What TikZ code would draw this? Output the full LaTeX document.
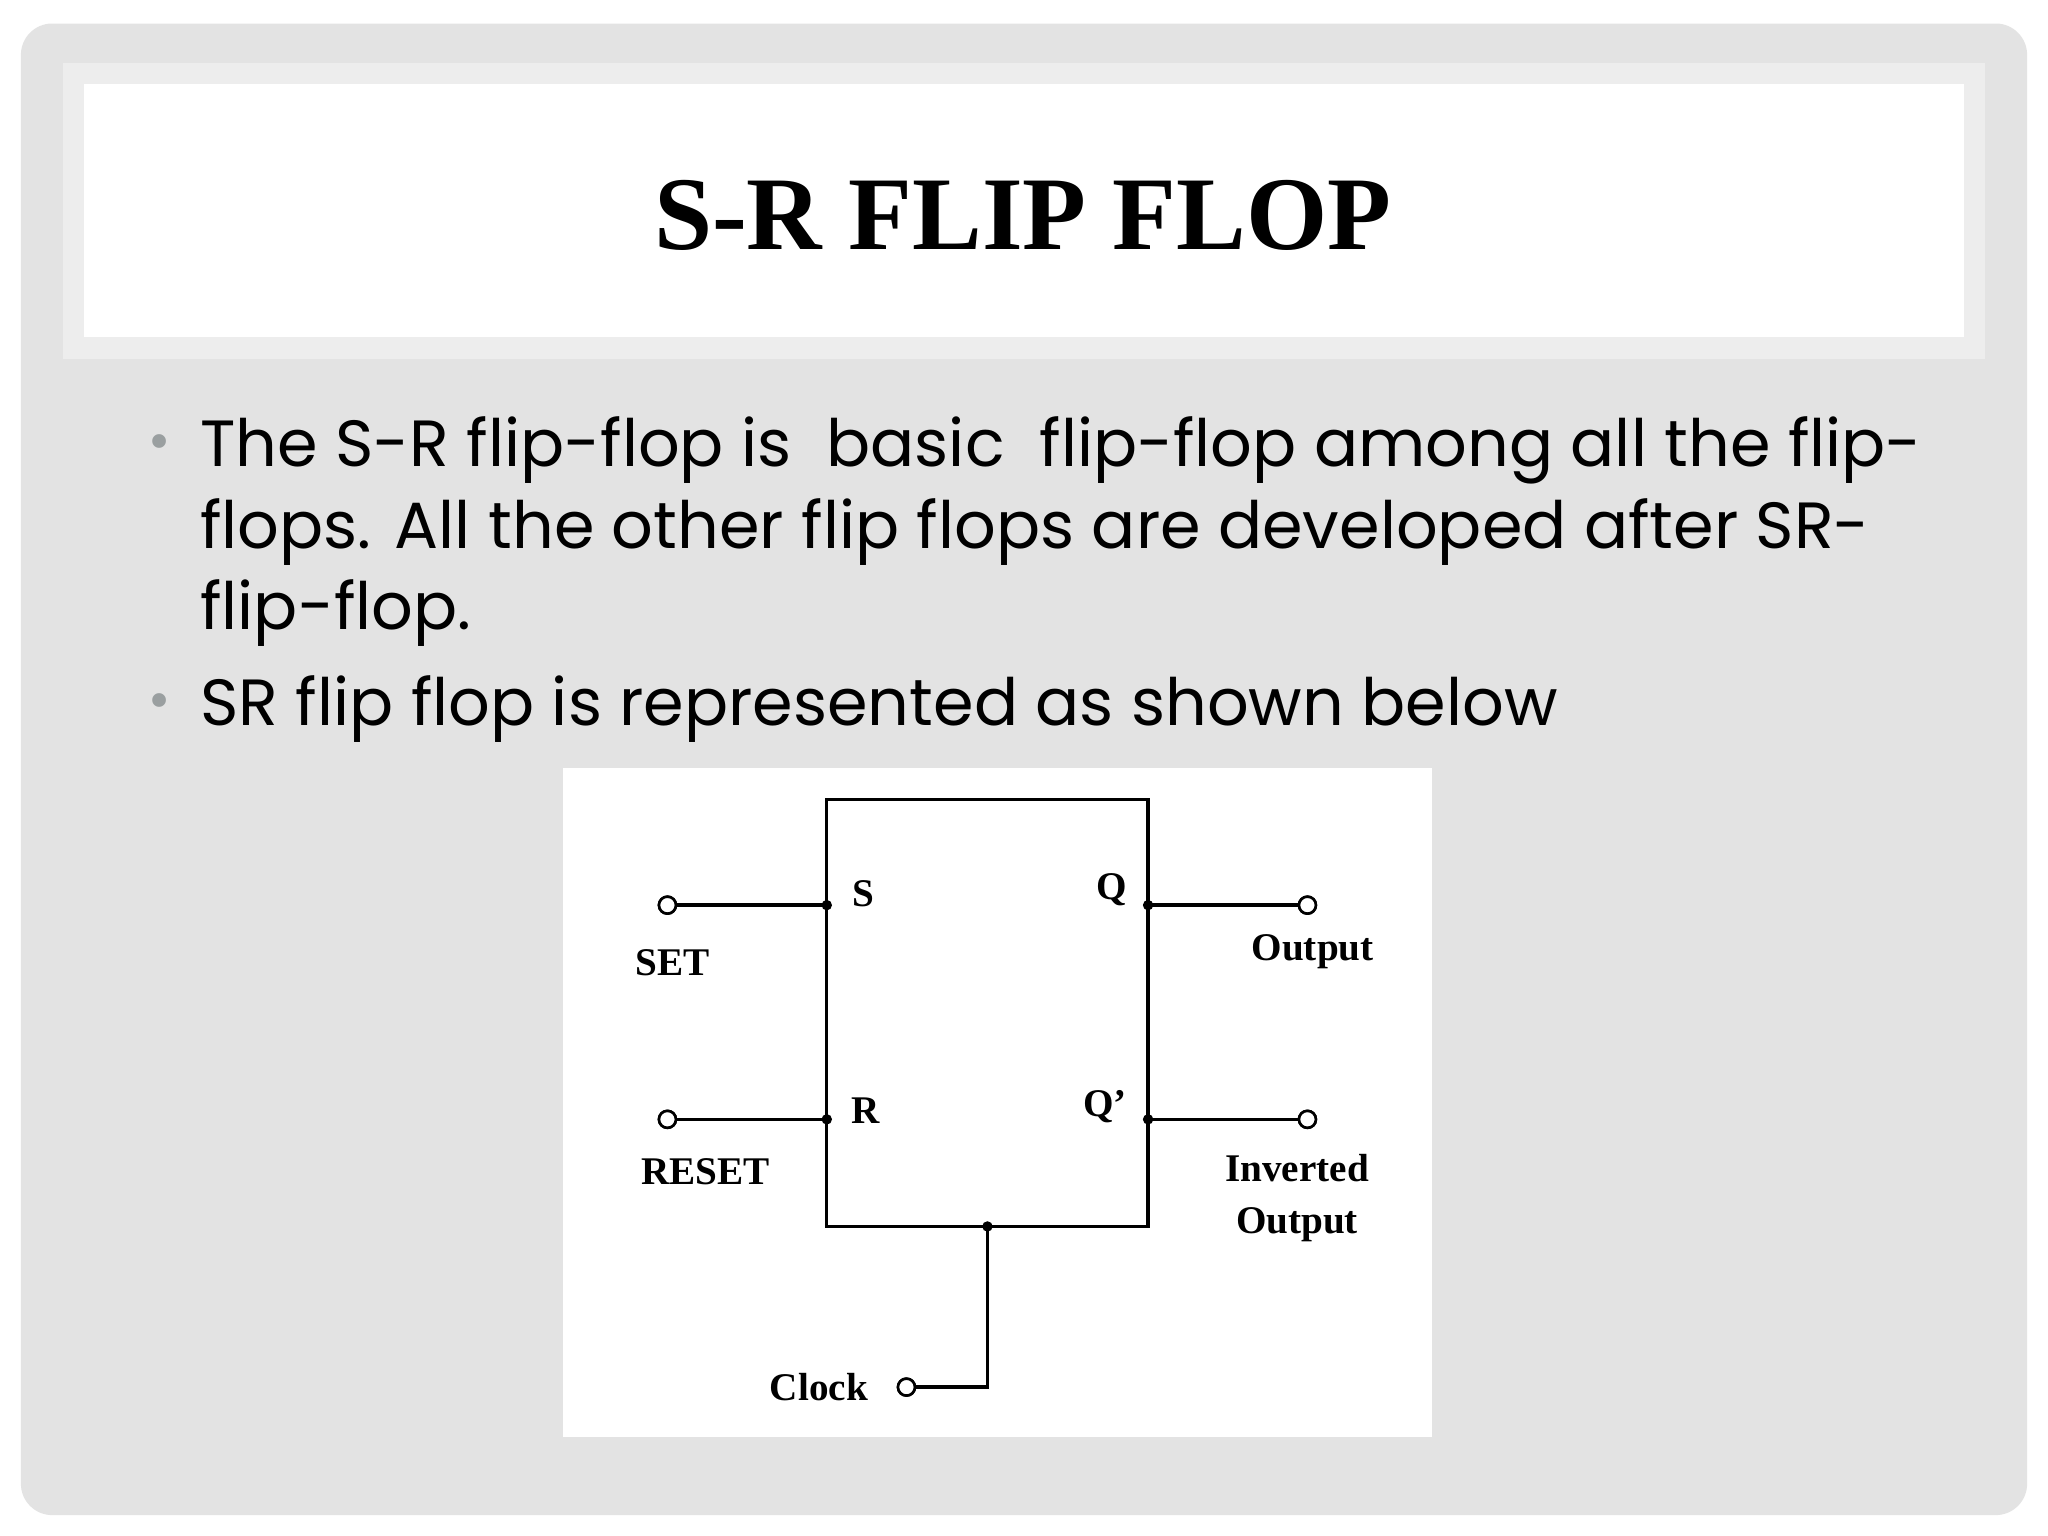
\documentclass[tikz,border=0pt]{standalone}
\usepackage{fontspec}
\setmainfont{Liberation Serif}
\newfontfamily\bodyfont{Poppins}
\definecolor{slidebg}{HTML}{E3E3E3}
\definecolor{bandedge}{HTML}{EDEDED}
\definecolor{bulletgray}{HTML}{9A9FA0}
\tikzset{px/.style={x=0.5pt,y=-0.5pt},
 wire/.style={line width=1.3pt},
 term/.style={circle,draw,line width=1pt,minimum size=6.5pt,inner sep=0pt,fill=white},
 jdot/.style={circle,fill,minimum size=4pt,inner sep=0pt},
 lbl/.style={font=\bfseries\fontsize{15}{17}\selectfont,inner sep=0pt},
 body/.style={font=\bodyfont\fontsize{25}{31.5}\selectfont,anchor=west,inner sep=0pt}}
\begin{document}
\begin{tikzpicture}[px]
\useasboundingbox (0,0) rectangle (1568,1176);
\fill[white] (0,0) rectangle (1568,1176);
\fill[slidebg,rounded corners=12pt] (16,18) rectangle (1552,1160);
\fill[bandedge] (48,48) rectangle (1520,275);
\fill[white] (64,64) rectangle (1504,258);
\node[font=\bfseries\fontsize{40}{44}\selectfont] (title) at (783,165) {S-R FLIP FLOP};
\node[text=bulletgray,font=\fontsize{22}{22}\selectfont] (b1) at (122,343) {\textbullet};
\node[text=bulletgray,font=\fontsize{22}{22}\selectfont] (b2) at (122,541) {\textbullet};
\node[body] (t1) at (153,345) {The S-R flip-flop is\ \ basic\ \ flip-flop among all the flip-};
\node[body] (t2) at (153,407) {flops. All the other flip flops are developed after SR-};
\node[body] (t3) at (153,469) {flip-flop.};
\node[body] (t4) at (153,543) {SR flip flop is represented as shown below};
% diagram
\fill[white] (431,588) rectangle (1096,1100);
\draw[wire] (633,612) rectangle (879,939);
\coordinate (S) at (633,693); \coordinate (R) at (633,857);
\coordinate (Q) at (879,693); \coordinate (Qb) at (879,857);
\coordinate (C) at (756,939); \coordinate (Cc) at (756,1062);
\node[term] (tS) at (511,693) {}; \node[term] (tR) at (511,857) {};
\node[term] (tQ) at (1001,693) {}; \node[term] (tQb) at (1001,857) {};
\node[term] (tC) at (694,1062) {};
\draw[wire] (tS.center) -- (S); \draw[wire] (tR.center) -- (R);
\draw[wire] (Q) -- (tQ.center); \draw[wire] (Qb) -- (tQb.center);
\draw[wire] (C) -- (Cc) -- (tC.center);
\foreach \p in {tS,tR,tQ,tQb,tC} \node[term] at (\p) {};
\foreach \p in {S,R,Q,Qb,C} \node[jdot] at (\p) {};
\node[lbl] (lS) at (661,684) {S};
\node[lbl] (lR) at (663,850) {R};
\node[lbl] (lQ) at (851,681) {Q};
\node[lbl] (lQb) at (846,847) {Q'};
\node[lbl] (lSET) at (515,737) {SET};
\node[lbl] (lRESET) at (540,897) {RESET};
\node[lbl] (lOut) at (1005,729) {Output};
\node[lbl,align=center,font=\bfseries\fontsize{15}{20}\selectfont] (lInv) at (993,917) {Inverted\\Output};
\node[lbl] (lClk) at (627,1062) {Clock};
\end{tikzpicture}
\end{document}
